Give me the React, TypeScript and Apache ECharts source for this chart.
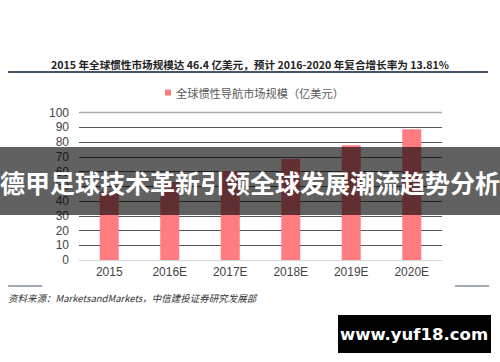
import React, { useEffect, useRef } from "react";
import * as echarts from "echarts";

const categories = ["2015", "2016E", "2017E", "2018E", "2019E", "2020E"];
const marketSize = [46.4, 52.8, 60.1, 68.4, 77.8, 88.6];
const titleText = "2015 年全球惯性市场规模达 46.4 亿美元，预计 2016-2020 年复合增长率为 13.81%";
const seriesName = "全球惯性导航市场规模（亿美元）";
const bannerText = "德甲足球技术革新引领全球发展潮流趋势分析";
const sourceText = "资料来源：MarketsandMarkets，中信建投证券研究发展部";
const watermark = "www.yuf18.com";

export default function App() {
  const ref = useRef<HTMLDivElement>(null);
  useEffect(() => {
    if (!ref.current) return;
    const chart = echarts.init(ref.current, null, { renderer: "svg" });
    const font = "'Noto Sans CJK SC', 'Noto Sans', sans-serif";
    chart.setOption({
      animation: false,
      backgroundColor: "#ffffff",
      textStyle: { fontFamily: font },
      title: {
        text: titleText,
        left: "center",
        top: 54,
        textStyle: { fontSize: 10.6, fontWeight: "bold", color: "#222", fontFamily: font },
      },
      legend: {
        data: [seriesName],
        top: 82,
        left: 160,
        icon: "rect",
        itemWidth: 6,
        itemHeight: 6,
        itemGap: 3,
        textStyle: { fontSize: 11.2, color: "#595959", fontFamily: font },
      },
      grid: { left: 79, right: 58, top: 112.5, bottom: 102, containLabel: false },
      xAxis: {
        type: "category",
        data: categories,
        axisLine: { lineStyle: { color: "#d9d9d9" } },
        axisTick: { show: false },
        axisLabel: { fontSize: 12, color: "#444", margin: 6, fontFamily: "Liberation Sans, Arial, sans-serif" },
      },
      yAxis: {
        type: "value",
        min: 0,
        max: 100,
        interval: 10,
        axisLine: { show: false },
        axisTick: { show: false },
        axisLabel: { fontSize: 12, color: "#444", margin: 10, fontFamily: "Liberation Sans, Arial, sans-serif" },
        splitLine: { lineStyle: { color: "#555", width: 1 } },
      },
      series: [
        {
          name: seriesName,
          type: "bar",
          data: marketSize,
          barWidth: 19,
          itemStyle: { color: "#FF7C80" },
        },
      ],
      graphic: [
        { type: "line", shape: { x1: 8, y1: 72, x2: 488, y2: 72 }, style: { stroke: "#44546A", lineWidth: 2 }, z: 50 },
        { type: "line", shape: { x1: 79, y1: 112.5, x2: 442, y2: 112.5 }, style: { stroke: "#aaaaaa", lineWidth: 1.5 }, z: 50 },
        { type: "line", shape: { x1: 8, y1: 286, x2: 42, y2: 286 }, style: { stroke: "#44546A", lineWidth: 1 }, z: 50 },
        { type: "line", shape: { x1: 455, y1: 286, x2: 489, y2: 286 }, style: { stroke: "#44546A", lineWidth: 1 }, z: 50 },
        {
          type: "text",
          left: 8,
          top: 293,
          style: { text: sourceText, fill: "#333", font: `italic 9.5px ${font}` },
          z: 50,
        },
        { type: "rect", shape: { x: 0, y: 147, width: 500, height: 68 }, style: { fill: "rgba(0,0,0,0.62)" }, z: 100 },
        {
          type: "text",
          x: 250,
          y: 182,
          style: {
            text: bannerText,
            fill: "#ffffff",
            font: `bold 25px ${font}`,
            textAlign: "center",
            textVerticalAlign: "middle",
          },
          z: 101,
        },
        { type: "rect", shape: { x: 338, y: 315, width: 153, height: 38 }, style: { fill: "#000000" }, z: 100 },
        {
          type: "text",
          x: 414,
          y: 334,
          style: {
            text: watermark,
            fill: "#ffffff",
            font: `bold 16.5px 'DejaVu Sans', sans-serif`,
            textAlign: "center",
            textVerticalAlign: "middle",
          },
          z: 101,
        },
      ],
    });
    return () => chart.dispose();
  }, []);
  return <div ref={ref} style={{ position: "fixed", left: 0, top: 0, width: 500, height: 362 }} />;
}
